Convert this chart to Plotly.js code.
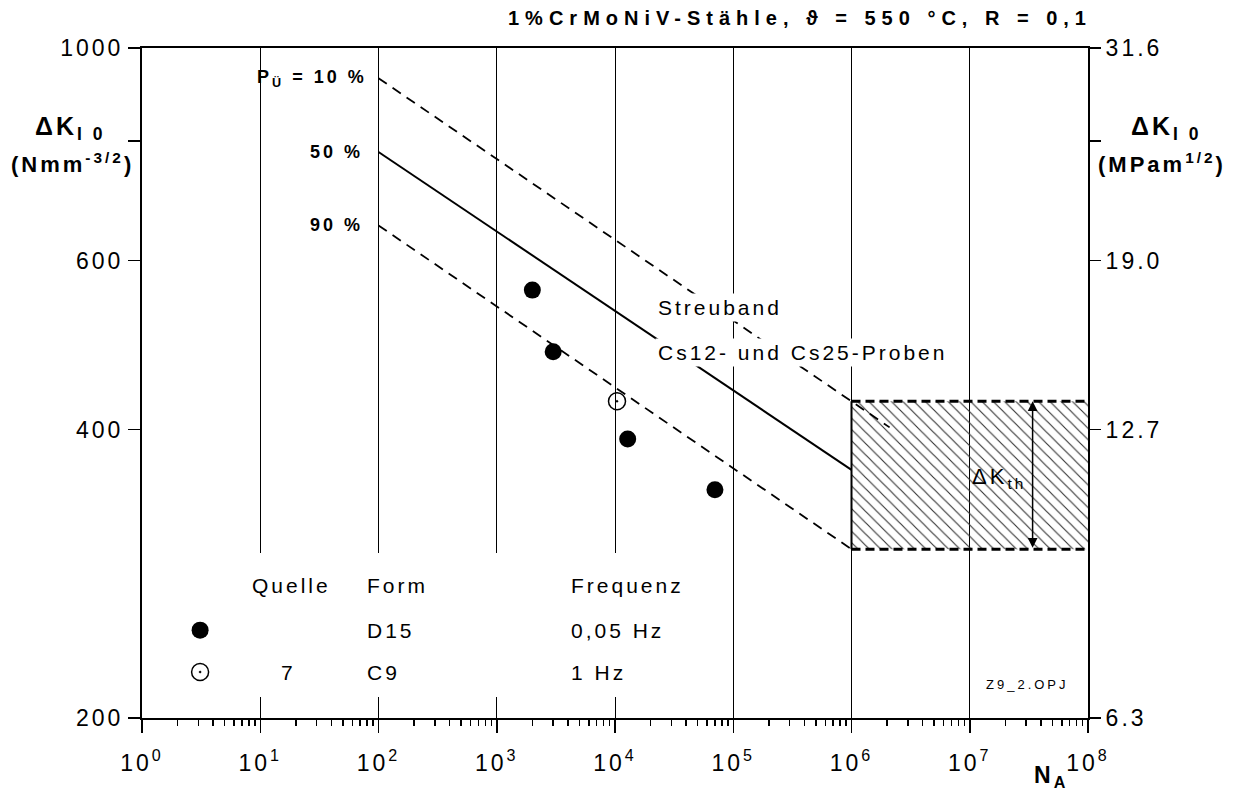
<!DOCTYPE html>
<html><head><meta charset="utf-8">
<script src="https://cdn.plot.ly/plotly-3.0.1.min.js"></script>
<style>
html,body{margin:0;padding:0;background:#fff;}
#chart{width:1236px;height:791px;}
text{letter-spacing:3px;}
g.annotation[data-index="0"] text{letter-spacing:6px;}
</style></head><body><div id="chart"></div>
<script>
// ---- data ----
const decades = [1, 1e1, 1e2, 1e3, 1e4, 1e5, 1e6, 1e7, 1e8];
const decadeLabels = ['10<sup>0</sup>','10<sup>1</sup>','10<sup>2</sup>','10<sup>3</sup>','10<sup>4</sup>','10<sup>5</sup>','10<sup>6</sup>','10<sup>7</sup>','10<sup>8</sup>'];
const kTicks = [200, 400, 600, 800, 1000];
const kTickLabels = ['200', '400', '600', '', '1000'];
const mpaTicks = [6.3246, 12.649, 18.974, 25.298, 31.623];
const mpaTickLabels = ['6.3', '12.7', '19.0', '', '31.6'];

const N_D15 = [2000, 3000, 12800, 70000];
const K_D15 = [559, 482, 391, 346];
const N_C9 = [10400];
const K_C9 = [428];

const N_band50 = [100, 1e6];
const K_band50 = [779, 363];
const N_band10 = [100, 2.1e6];
const K_band10 = [930, 402];
const N_band90 = [100, 1e6];
const K_band90 = [653, 300];

const N_th = [1e6, 1e8];
const K_th_low = 300;
const K_th_high = 428;
const N_thArrow = 3.4e7;

const legendN = [3.1];
const legendK_D15 = [247];
const legendK_C9 = [223.4];

// ---- helpers for positioning (pixels of the 1236x791 frame) ----
const X = px => (px - 142) / 946;
const Y = py => (718 - py) / 670;
const px2N = px => Math.pow(10, (px - 142) / 118.25);
const py2K = py => 200 * Math.pow(10, (718 - py) / 958.5);
const FONT = 'Liberation Sans, Arial, sans-serif';

const mX = [px2N(186), px2N(700), px2N(700), px2N(186), px2N(186)];
const mY = [py2K(697), py2K(697), py2K(553), py2K(553), py2K(697)];

const traces = [
  { // white panel behind the key (masks grid lines)
    x: mX, y: mY, mode: 'lines', fill: 'toself', fillcolor: '#fff', line: {width: 0}, hoverinfo: 'skip'
  },
  { // hatched threshold band
    x: [N_th[0], N_th[1], N_th[1], N_th[0], N_th[0]],
    y: [K_th_low, K_th_low, K_th_high, K_th_high, K_th_low],
    mode: 'lines', fill: 'toself', fillcolor: 'rgba(0,0,0,0)',
    fillpattern: {shape: '\\', fgcolor: '#333', bgcolor: 'rgba(0,0,0,0)', size: 8, solidity: 0.14},
    line: {width: 0}, hoverinfo: 'skip'
  },
  {x: N_th, y: [K_th_high, K_th_high], mode: 'lines', line: {color: '#000', width: 3, dash: '9px,5px'}},
  {x: N_th, y: [K_th_low, K_th_low], mode: 'lines', line: {color: '#000', width: 3, dash: '9px,5px'}},
  {x: [N_th[0], N_th[0]], y: [K_th_low, K_th_high], mode: 'lines', line: {color: '#000', width: 2}},
  {x: N_band50, y: K_band50, mode: 'lines', line: {color: '#000', width: 2}},
  {x: N_band10, y: K_band10, mode: 'lines', line: {color: '#000', width: 1.8, dash: '10px,7px'}},
  {x: N_band90, y: K_band90, mode: 'lines', line: {color: '#000', width: 1.8, dash: '10px,7px'}},
  {x: N_D15, y: K_D15, mode: 'markers', marker: {symbol: 'circle', size: 17, color: '#000'}},
  {x: N_C9, y: K_C9, mode: 'markers', marker: {symbol: 'circle-open-dot', size: 17, color: '#000', line: {width: 1.5, color: '#000'}}},
  {x: legendN, y: legendK_D15, mode: 'markers', marker: {symbol: 'circle', size: 17, color: '#000'}},
  {x: legendN, y: legendK_C9, mode: 'markers', marker: {symbol: 'circle-open-dot', size: 17, color: '#000', line: {width: 1.5, color: '#000'}}},
  {x: [], y: [], yaxis: 'y2', mode: 'markers', hoverinfo: 'skip'}
];

function txt(text, px, py, opts) {
  return Object.assign({
    text: text, xref: 'paper', yref: 'paper', x: X(px), y: Y(py),
    xanchor: 'left', yanchor: 'middle', align: 'left', showarrow: false,
    font: {family: FONT, size: 21, color: '#000'}
  }, opts || {});
}
const f = s => ({family: FONT, size: s, color: '#000'});

const annotations = [
  txt('<b>1%CrMoNiV-Stähle, ϑ = 550 °C, R = 0,1</b>', 506, 18, {font: f(20)}),
  txt('<b>ΔK<sub>I 0</sub></b>', 70, 128, {xanchor: 'center', align: 'center', font: f(25)}),
  txt('<b>(Nmm<sup>-3/2</sup>)</b>', 72, 163, {xanchor: 'center', align: 'center', font: f(22)}),
  txt('<b>ΔK<sub>I 0</sub></b>', 1166, 128, {xanchor: 'center', align: 'center', font: f(25)}),
  txt('<b>(MPam<sup>1/2</sup>)</b>', 1162, 163, {xanchor: 'center', align: 'center', font: f(22)}),
  txt('<b>P<sub>Ü</sub> = 10 %</b>', 255, 78, {font: f(18)}),
  txt('<b>50 %</b>', 308, 152, {font: f(18)}),
  txt('<b>90 %</b>', 308, 225, {font: f(18)}),
  txt('Streuband', 655, 307, {bgcolor: '#fff', borderpad: 2, font: f(21)}),
  txt('Cs12- und Cs25-Proben', 655, 352, {bgcolor: '#fff', borderpad: 2, font: f(21)}),
  txt('ΔK<sub>th</sub>', 970, 478, {font: f(22)}),
  txt('Z9_2.OPJ', 984, 684, {font: f(13)}),
  txt('Quelle', 250, 585, {font: f(21)}),
  txt('Form', 365, 585, {font: f(21)}),
  txt('Frequenz', 569, 585, {font: f(21)}),
  txt('D15', 365, 630, {font: f(21)}),
  txt('0,05 Hz', 569, 630, {font: f(21)}),
  txt('7', 279, 672, {font: f(21)}),
  txt('C9', 365, 672, {font: f(21)}),
  txt('1 Hz', 569, 672, {font: f(21)}),
  txt('<b>N<sub>A</sub></b>', 1032, 776, {font: f(23)}),
  { // double arrow for threshold range
    text: '', xref: 'x', yref: 'y', axref: 'x', ayref: 'y',
    x: Math.log10(N_thArrow), y: Math.log10(K_th_high),
    ax: Math.log10(N_thArrow), ay: Math.log10(K_th_low),
    showarrow: true, arrowhead: 2, arrowside: 'end+start', arrowsize: 1.3, arrowwidth: 1.5,
    arrowcolor: '#000', standoff: 0, startstandoff: 0
  }
];

const layout = {
  width: 1236, height: 791,
  margin: {l: 142, r: 148, t: 48, b: 73, pad: 0},
  paper_bgcolor: '#fff', plot_bgcolor: '#fff',
  showlegend: false,
  font: {family: FONT, color: '#000'},
  xaxis: {
    type: 'log', range: [0, 8], tickmode: 'array', tickvals: decades, ticktext: decadeLabels,
    ticks: 'outside', ticklen: 13, tickwidth: 1.5, tickcolor: '#000', ticklabelstandoff: 10,
    showgrid: true, gridcolor: '#000', gridwidth: 1,
    showline: true, mirror: true, linecolor: '#000', linewidth: 2, zeroline: false,
    tickfont: f(23),
    minor: {ticks: 'outside', ticklen: 6, tickwidth: 1.5, tickcolor: '#000', dtick: 'D1', showgrid: false}
  },
  yaxis: {
    type: 'log', range: [Math.log10(200), 3], tickmode: 'array', tickvals: kTicks, ticktext: kTickLabels,
    ticks: 'outside', ticklen: 12, tickwidth: 1.5, tickcolor: '#000',
    showgrid: false, showline: true, mirror: true, linecolor: '#000', linewidth: 2, zeroline: false,
    tickfont: f(23)
  },
  yaxis2: {
    type: 'log', overlaying: 'y', side: 'right',
    range: [Math.log10(mpaTicks[0]), Math.log10(mpaTicks[4])],
    tickmode: 'array', tickvals: mpaTicks, ticktext: mpaTickLabels,
    ticks: 'outside', ticklen: 12, tickwidth: 1.5, tickcolor: '#000',
    showgrid: false, showline: false, zeroline: false,
    tickfont: f(23)
  },
  annotations: annotations
};

Plotly.newPlot('chart', traces, layout, {staticPlot: true, displayModeBar: false});
</script></body></html>
